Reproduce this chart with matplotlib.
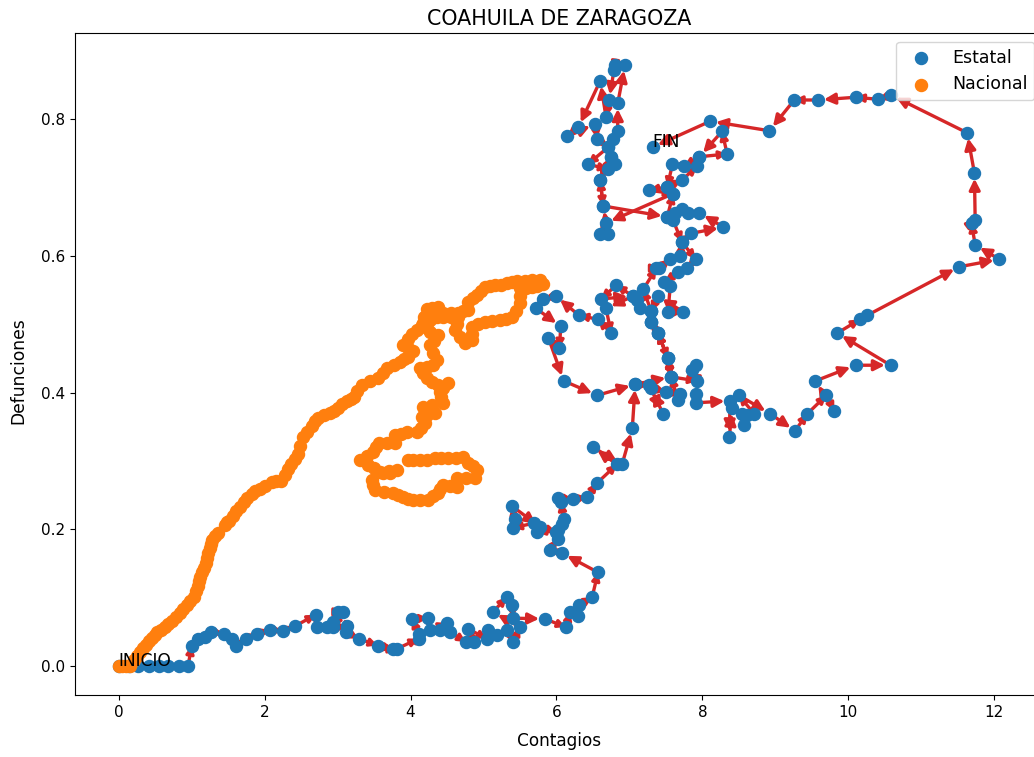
import matplotlib
matplotlib.use("Agg")
import matplotlib.pyplot as plt

estatal_x = [0, .14, .27, .41, .55, .68, .82, .95, 1.0, 1.09, 1.18, 1.27, 1.44, 1.55, 1.61, 1.74, 1.9, 2.07, 2.25, 2.41,
             2.7, 2.72, 2.85, 2.94, 3.0, 3.07, 2.94, 3.13, 3.11, 3.29, 3.55, 3.76, 3.81, 4.11, 4.11, 4.02, 4.24, 4.27, 4.5, 4.4,
             4.54, 4.76, 4.87, 4.79, 5.05, 5.06, 5.18, 5.32, 5.41, 5.5, 5.13, 5.32, 5.39, 5.41, 5.84,
             6.13, 6.19, 6.3, 6.31, 6.49, 6.57, 6.08, 5.91, 6.02, 6.02, 5.73, 5.69, 5.4, 5.43, 5.39, 5.78, 6.0, 6.08, 6.1,
             6.06, 6.02, 6.23, 6.42, 6.56, 6.83, 6.5, 6.9, 7.04, 7.08,
             7.27, 7.46, 7.3, 7.5, 7.7, 7.67, 7.57, 7.53, 7.39, 7.3, 7.3, 7.15, 7.11, 7.05, 6.82, 6.61, 7.05, 6.68, 6.75, 6.57,
             6.31, 5.99, 5.82, 5.72, 6.06, 6.04, 5.89, 6.1, 6.56, 7.08, 7.57, 7.53, 7.39, 7.3, 7.3,
             7.19, 7.37, 7.41, 7.56, 7.7, 7.72, 7.85, 8.29, 7.96, 7.81, 7.72, 7.63, 7.52,
             7.6, 7.52, 7.72, 7.93, 7.96, 8.34, 8.27, 7.96, 7.75, 7.59, 7.52, 7.27, 7.6, 6.68, 6.6, 6.71, 6.64, 6.6,
             6.75, 6.8, 6.71, 6.78, 6.84, 6.84, 6.94, 6.8, 6.79, 6.72, 6.68, 6.6, 6.3, 6.15, 6.53, 6.56, 6.71, 6.43, 6.71,
             6.75, 6.6, 6.64, 7.52, 7.6, 7.72, 7.91, 7.79, 7.67, 7.48, 7.56, 7.53, 7.74, 7.39, 7.3, 7.3, 7.39, 7.53, 7.57,
             7.93, 7.86, 7.91, 7.91, 7.91, 8.38, 8.37, 8.41, 8.55, 8.57, 8.61, 8.71, 8.5, 8.93, 9.27, 9.44, 9.7, 9.81, 9.55,
             10.1, 10.58, 9.85, 10.16, 10.26, 11.52, 12.07, 11.74, 11.69, 11.74, 11.73, 11.63, 10.59, 10.41, 10.1, 9.59, 9.26,
             8.92, 8.11, 7.32]
estatal_y = [0, 0, 0, 0, 0, 0, 0, 0, .03, .04, .043, .05, .047, .04, .03, .04, .047, .053, .051, .058,
             .075, .057, .057, .064, .079, .079, .057, .058, .05, .04, .03, .025, .025, .04, .047, .069, .07, .053, .063, .053,
             .05, .035, .035, .054, .04, .053, .045, .053, .035, .057, .079, .101, .089, .07, .069,
             .057, .079, .073, .089, .101, .137, .165, .17, .186, .199, .196, .209, .202, .215, .234, .203, .196, .208, .215,
             .24, .246, .244, .247, .268, .295, .32, .295, .348, .412,
             .411, .369, .407, .401, .398, .389, .423, .45, .487, .503, .519, .523, .535, .541, .557, .537, .541, .523, .487, .507,
             .513, .541, .537, .523, .497, .465, .48, .417, .396, .412, .423, .45, .487, .503, .519,
             .551, .582, .582, .595, .6, .62, .633, .642, .663, .663, .668, .663, .657,
             .691, .701, .711, .731, .745, .749, .782, .745, .731, .734, .701, .696, .691, .648, .632, .632, .673, .711,
             .745, .734, .759, .771, .782, .823, .879, .879, .872, .828, .803, .856, .788, .775, .793, .771, .759, .734, .727,
             .745, .711, .673, .657, .652, .62, .595, .582, .576, .562, .556, .518, .518, .541, .519, .503, .487, .45, .423,
             .417, .433, .44, .398, .385, .388, .335, .377, .369, .352, .367, .369, .396, .369, .344, .369, .396, .373, .417,
             .44, .44, .487, .507, .513, .584, .595, .616, .648, .652, .721, .78, .835, .829, .832, .828, .828,
             .783, .797, .759]

nacional_x = [0, .05, .1, .15, .21, .25, .29, .33, .37, .41, .45, .49, .53, .58, .63, .68, .73, .78, .84, .88, .93, .98, 1.03,
              1.06, 1.08, 1.1, 1.12, 1.14, 1.17, 1.19, 1.21, 1.23, 1.25, 1.27, 1.28, 1.32, 1.36, 1.46, 1.49, 1.51, 1.56, 1.61,
              1.66, 1.71, 1.76, 1.82, 1.87, 1.93, 2.0, 2.1, 2.16, 2.22, 2.28, 2.32, 2.36, 2.42, 2.46, 2.49, 2.52, 2.58, 2.65,
              2.69, 2.73, 2.81, 2.89, 2.95, 3.0, 3.06, 3.13, 3.18, 3.22, 3.27, 3.33, 3.45, 3.55, 3.62, 3.68, 3.77, 3.85, 3.91,
              3.96, 4.03, 3.97, 3.9, 3.96, 4.02, 4.09, 4.16, 4.19, 4.22, 4.3, 4.38, 4.44, 4.55, 4.65, 4.72, 4.79, 4.79, 4.85,
              4.91, 4.96, 5.02, 5.09, 5.16, 5.24, 5.32, 5.39, 5.46, 5.57, 5.67, 5.78, 5.82, 5.74, 5.67, 5.58, 5.5, 5.5, 5.5,
              5.45, 5.39, 5.31, 5.23, 5.12, 5.02, 4.93, 4.84, 4.84, 4.84, 4.75, 4.68, 4.61, 4.63, 4.65, 4.55, 4.45, 4.36, 4.27,
              4.17, 4.22, 4.27, 4.38, 4.32, 4.27, 4.31, 4.36, 4.31, 4.22, 4.13, 4.17, 4.22, 4.3, 4.38, 4.51, 4.45, 4.4, 4.42,
              4.44, 4.3, 4.17, 4.33, 4.22, 4.16, 4.2, 4.15, 4.09, 3.95, 3.87, 3.79, 3.79, 3.68, 3.57, 3.52, 3.48, 3.4, 3.31,
              3.42, 3.5, 3.58, 3.7, 3.81, 3.72, 3.62, 3.47, 3.49, 3.51, 3.63, 3.76, 3.83, 3.9, 3.96, 4.03, 4.13, 4.24, 4.31,
              4.38, 4.41, 4.44, 4.54, 4.64, 4.64, 4.76, 4.88, 4.91, 4.85, 4.79, 4.72, 4.62, 4.51, 4.42, 4.33, 4.23, 4.13, 4.04, 3.96]
nacional_y = [0, 0, 0, 0, .009, .015, .02, .026, .031, .036, .041, .046, .05, .053, .057, .062, .066, .072, .078, .083, .089, .095, .101,
              .11, .117, .124, .13, .137, .143, .151, .158, .166, .173, .179, .184, .19, .195, .207, .21, .212, .219, .227,
              .233, .24, .246, .252, .256, .259, .264, .269, .27, .271, .279, .288, .295, .303, .31, .322, .335, .343, .351,
              .358, .363, .367, .37, .373, .377, .383, .388, .39, .393, .402, .411, .417, .421, .428, .436, .441, .445, .449,
              .452, .461, .465, .469, .478, .485, .492, .499, .51, .522, .524, .525, .516, .516, .516, .519, .521, .532, .538,
              .543, .549, .554, .556, .557, .558, .56, .562, .563, .563, .564, .565, .559, .556, .554, .553, .553, .542, .531,
              .52, .51, .508, .506, .504, .503, .5, .496, .486, .477, .472, .481, .491, .5, .51, .51, .51, .51, .506,
              .502, .495, .488, .484, .476, .469, .458, .448, .44, .437, .436, .428, .421, .416, .411, .414, .407, .401, .393,
              .385, .382, .379, .37, .367, .364, .355, .348, .342, .342, .34, .338, .326, .326, .326, .32, .313, .307, .301,
              .294, .289, .284, .285, .287, .283, .282, .272, .265, .257, .255, .253, .25, .247, .245, .243, .243, .243, .248,
              .253, .259, .265, .263, .262, .275, .275, .275, .287, .292, .297, .306, .305, .304, .304, .304, .302, .301, .301, .301]

fig = plt.figure(figsize=(10.34, 7.57), dpi=100)
# the reference is cut off on the right, so the axes run past the canvas
ax = fig.add_axes([75 / 1034, 62 / 757, 968 / 1034, 662 / 757])
ax.set_xlim(-0.6, 12.67)
ax.set_ylim(-0.0424, 0.926)

for i in range(len(estatal_x) - 1):
    x0, y0 = ax.transData.transform((estatal_x[i], estatal_y[i]))
    x1, y1 = ax.transData.transform((estatal_x[i + 1], estatal_y[i + 1]))
    dist = ((x1 - x0) ** 2 + (y1 - y0) ** 2) ** 0.5
    # short hops keep the head under the next dot
    if dist < 28:
        head = 11
        shrink = 0
    else:
        head = 16
        shrink = 4
    ax.annotate("", xy=(estatal_x[i + 1], estatal_y[i + 1]), xytext=(estatal_x[i], estatal_y[i]),
                arrowprops=dict(arrowstyle="-|>", color="tab:red", lw=2.4, mutation_scale=head, shrinkA=0, shrinkB=shrink))

ax.scatter(estatal_x, estatal_y, s=75, color="tab:blue", label="Estatal", zorder=3)
ax.scatter(nacional_x, nacional_y, s=75, color="tab:orange", label="Nacional", zorder=3)
ax.text(estatal_x[0], estatal_y[0], "INICIO", fontsize=12.3, zorder=4)
ax.text(estatal_x[-1], estatal_y[-1], "FIN", fontsize=12.3, zorder=4)

ax.set_xticks([0, 2, 4, 6, 8, 10, 12])
ax.set_yticks([0.0, 0.2, 0.4, 0.6, 0.8])
ax.tick_params(labelsize=11)
ax.set_title("COAHUILA DE ZARAGOZA", fontsize=14.9)
ax.set_xlabel("Contagios", fontsize=12.2, labelpad=9)
ax.set_ylabel("Defunciones", fontsize=12.3, labelpad=10, y=0.49)
ax.legend(loc="upper right", fontsize=12.5)

fig.savefig("out.png")
